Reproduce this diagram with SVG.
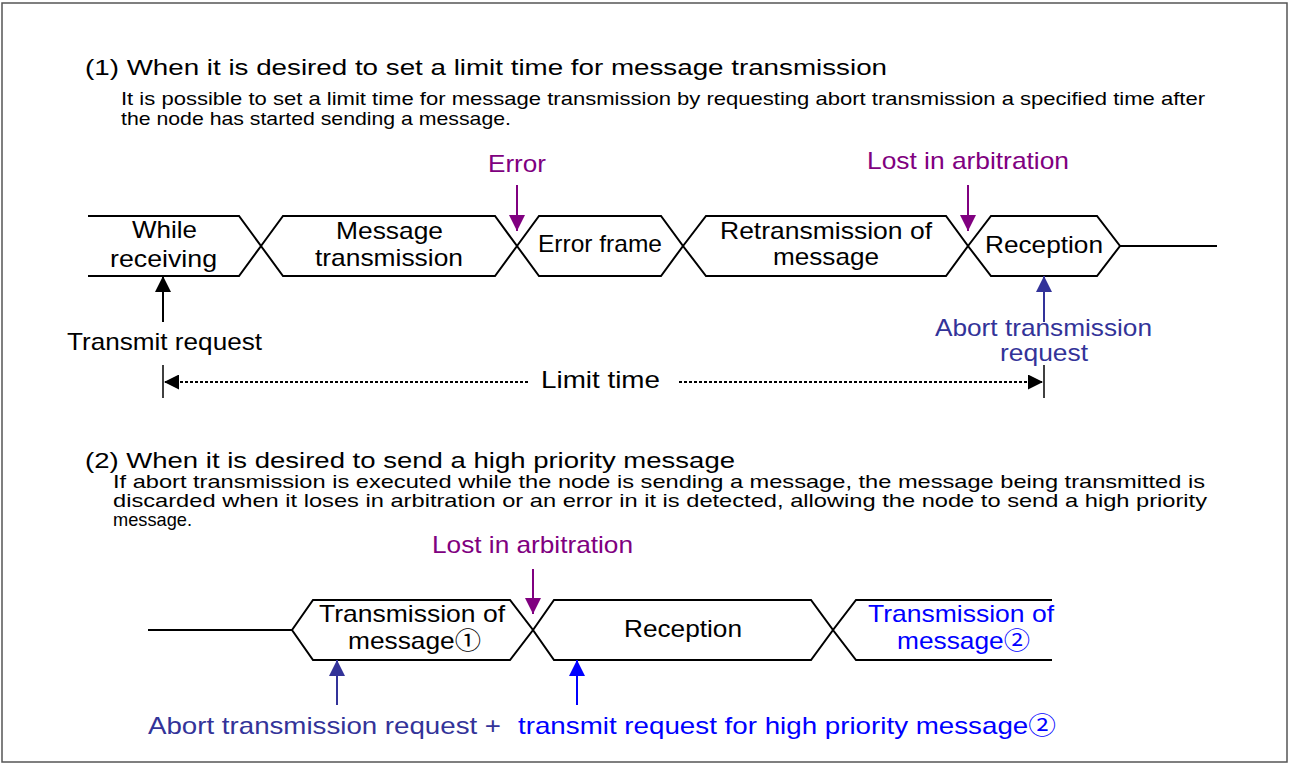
<svg xmlns="http://www.w3.org/2000/svg" width="1289" height="765" viewBox="0 0 1289 765">
<style>
text{font-family:"Liberation Sans","Noto Sans CJK JP",Arial,sans-serif;fill:#000}
.ttl{font-size:22px}
.body{font-size:19px}
.lbl{font-size:24px}
.purple{fill:#800080}
.dblue{fill:#333399}
.blue{fill:#0000FF}
.shape{fill:none;stroke:#000;stroke-width:2;stroke-linejoin:miter}
.arr{stroke-width:2;fill:none}
</style>
<defs>
<marker id="ahK" markerUnits="userSpaceOnUse" markerWidth="16" markerHeight="16" refX="16" refY="8" orient="auto"><path d="M0,0 L16,8 L0,16 z" fill="#000"/></marker>
<marker id="ahP" markerUnits="userSpaceOnUse" markerWidth="16" markerHeight="16" refX="16" refY="8" orient="auto"><path d="M0,0 L16,8 L0,16 z" fill="#800080"/></marker>
<marker id="ahD" markerUnits="userSpaceOnUse" markerWidth="16" markerHeight="16" refX="16" refY="8" orient="auto"><path d="M0,0 L16,8 L0,16 z" fill="#333399"/></marker>
<marker id="ahB" markerUnits="userSpaceOnUse" markerWidth="16" markerHeight="16" refX="16" refY="8" orient="auto"><path d="M0,0 L16,8 L0,16 z" fill="#0000FF"/></marker>
<marker id="ahL" markerUnits="userSpaceOnUse" markerWidth="15" markerHeight="15" refX="15" refY="7.5" orient="auto"><path d="M0,0 L15,7.5 L0,15 z" fill="#000"/></marker>
</defs>
<rect x="2" y="3" width="1285" height="759" fill="#fff" stroke="#555" stroke-width="1.5"/>

<g id="headings">
<text class="ttl" x="85" y="75" textLength="802" lengthAdjust="spacingAndGlyphs">(1) When it is desired to set a limit time for message transmission</text>
<text class="body" x="121" y="105" textLength="1084" lengthAdjust="spacingAndGlyphs">It is possible to set a limit time for message transmission by requesting abort transmission a specified time after</text>
<text class="body" x="121" y="125" textLength="390" lengthAdjust="spacingAndGlyphs">the node has started sending a message.</text>
<text class="ttl" x="85" y="468" textLength="650" lengthAdjust="spacingAndGlyphs">(2) When it is desired to send a high priority message</text>
<text class="body" x="113" y="488" textLength="1092" lengthAdjust="spacingAndGlyphs">If abort transmission is executed while the node is sending a message, the message being transmitted is</text>
<text class="body" x="113" y="507" textLength="1094" lengthAdjust="spacingAndGlyphs">discarded when it loses in arbitration or an error in it is detected, allowing the node to send a high priority</text>
<text class="body" x="113" y="526" textLength="79" lengthAdjust="spacingAndGlyphs">message.</text>
</g>

<g id="n-while-receiving">
<path class="shape" d="M88,216 H239 L261,246 L239,276 H88"/>
<text class="lbl" x="132" y="238" textLength="65" lengthAdjust="spacingAndGlyphs">While</text>
<text class="lbl" x="110" y="267" textLength="107" lengthAdjust="spacingAndGlyphs">receiving</text>
</g>
<g id="n-message-transmission">
<polygon class="shape" points="261,246 283,216 495,216 517,246 495,276 283,276"/>
<text class="lbl" x="336" y="239" textLength="107" lengthAdjust="spacingAndGlyphs">Message</text>
<text class="lbl" x="315" y="266" textLength="148" lengthAdjust="spacingAndGlyphs">transmission</text>
</g>
<g id="n-error-frame">
<polygon class="shape" points="517,246 539,216 661,216 683,246 661,276 539,276"/>
<text class="lbl" x="538" y="252" textLength="124" lengthAdjust="spacingAndGlyphs">Error frame</text>
</g>
<g id="n-retransmission">
<polygon class="shape" points="683,246 706,216 946,216 968,246 946,276 706,276"/>
<text class="lbl" x="720" y="239" textLength="212" lengthAdjust="spacingAndGlyphs">Retransmission of</text>
<text class="lbl" x="773" y="265" textLength="106" lengthAdjust="spacingAndGlyphs">message</text>
</g>
<g id="n-reception-1">
<polygon class="shape" points="968,246 991,216 1097,216 1120,246 1097,276 991,276"/>
<text class="lbl" x="985" y="253" textLength="118" lengthAdjust="spacingAndGlyphs">Reception</text>
</g>

<g id="n-transmission-1">
<polygon class="shape" points="292,630 313,600 510,600 533,630 510,660 313,660"/>
<text class="lbl" x="319" y="622" textLength="186" lengthAdjust="spacingAndGlyphs">Transmission of</text>
<text class="lbl" x="348" y="649" textLength="133" lengthAdjust="spacingAndGlyphs">message①</text>
</g>
<g id="n-reception-2">
<polygon class="shape" points="533,630 554,600 811,600 833,630 811,660 554,660"/>
<text class="lbl" x="624" y="637" textLength="118" lengthAdjust="spacingAndGlyphs">Reception</text>
</g>
<g id="n-transmission-2">
<path class="shape" d="M1052,600 H856 L833,630 L856,660 H1052"/>
<text class="lbl blue" x="868" y="622" textLength="186" lengthAdjust="spacingAndGlyphs">Transmission of</text>
<text class="lbl blue" x="897" y="649" textLength="133" lengthAdjust="spacingAndGlyphs">message②</text>
</g>

<g id="annotations">
<text class="lbl purple" x="488" y="172" textLength="58" lengthAdjust="spacingAndGlyphs">Error</text>
<text class="lbl purple" x="867" y="169" textLength="202" lengthAdjust="spacingAndGlyphs">Lost in arbitration</text>
<text class="lbl" x="67" y="350" textLength="195" lengthAdjust="spacingAndGlyphs">Transmit request</text>
<text class="lbl dblue" x="935" y="336" textLength="217" lengthAdjust="spacingAndGlyphs">Abort transmission</text>
<text class="lbl dblue" x="1000" y="361" textLength="88" lengthAdjust="spacingAndGlyphs">request</text>
<text class="lbl" x="541" y="388" textLength="119" lengthAdjust="spacingAndGlyphs">Limit time</text>
<text class="lbl purple" x="432" y="553" textLength="201" lengthAdjust="spacingAndGlyphs">Lost in arbitration</text>
<text class="lbl dblue" x="148" y="734" textLength="353" lengthAdjust="spacingAndGlyphs">Abort transmission request +</text>
<text class="lbl blue" x="518" y="734" textLength="538" lengthAdjust="spacingAndGlyphs">transmit request for high priority message②</text>
</g>

<g id="connectors">
<line x1="1120" y1="246" x2="1217" y2="246" stroke="#000" stroke-width="2"/>
<line x1="148" y1="630" x2="292" y2="630" stroke="#000" stroke-width="2"/>
<line class="arr" x1="163" y1="322" x2="163" y2="276" stroke="#000" marker-end="url(#ahK)"/>
<line class="arr" x1="517" y1="185" x2="517" y2="231" stroke="#800080" marker-end="url(#ahP)"/>
<line class="arr" x1="968" y1="185" x2="968" y2="231" stroke="#800080" marker-end="url(#ahP)"/>
<line class="arr" x1="1044" y1="322" x2="1044" y2="276" stroke="#333399" marker-end="url(#ahD)"/>
<line x1="163" y1="365" x2="163" y2="398" stroke="#000" stroke-width="1.5"/>
<line x1="1044" y1="365" x2="1044" y2="398" stroke="#000" stroke-width="1.5"/>
<line class="arr" x1="528" y1="382" x2="164" y2="382" stroke="#000" stroke-dasharray="3 2" marker-end="url(#ahL)"/>
<line class="arr" x1="679" y1="382" x2="1043" y2="382" stroke="#000" stroke-dasharray="3 2" marker-end="url(#ahL)"/>
<line class="arr" x1="533" y1="569" x2="533" y2="614" stroke="#800080" marker-end="url(#ahP)"/>
<line class="arr" x1="337" y1="705" x2="337" y2="660" stroke="#333399" marker-end="url(#ahD)"/>
<line class="arr" x1="577" y1="705" x2="577" y2="660" stroke="#0000FF" marker-end="url(#ahB)"/>
</g>
</svg>
